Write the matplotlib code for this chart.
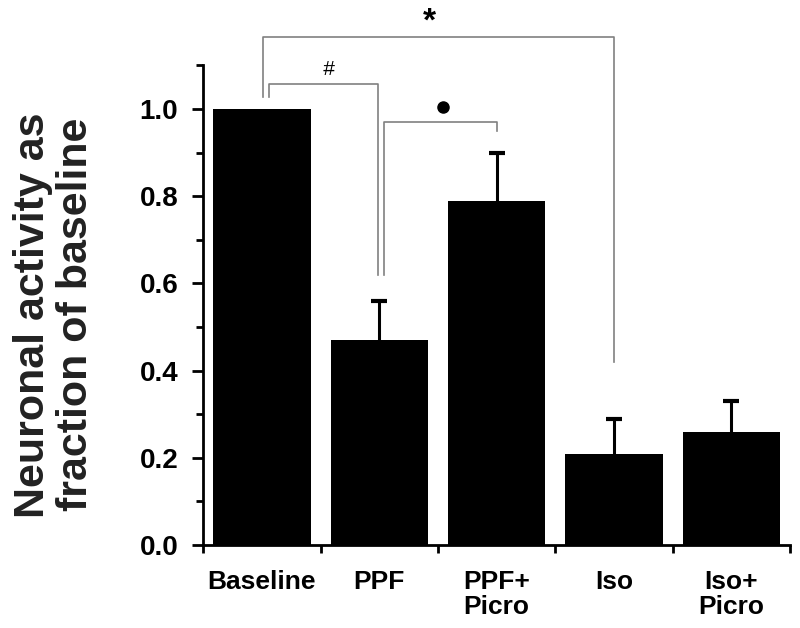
import matplotlib
matplotlib.use("Agg")
import matplotlib.pyplot as plt
from matplotlib.ticker import MultipleLocator
import numpy as np

categories = ["Baseline", "PPF", "PPF+\nPicro", "Iso", "Iso+\nPicro"]
values = [1.0, 0.47, 0.79, 0.21, 0.26]
errors = [0.0, 0.09, 0.11, 0.08, 0.07]
y_ticks = [0.0, 0.2, 0.4, 0.6, 0.8, 1.0]

plt.rcParams['font.family'] = ['Liberation Sans', 'DejaVu Sans']

fig = plt.figure(figsize=(8, 6.28), dpi=100)
ax = fig.add_axes([0.254, 0.132, 0.7335, 0.764])

x = np.arange(len(categories))
ax.bar(x, values, width=0.83, color='black', zorder=2)
for xi, v, e in zip(x, values, errors):
    if e > 0:
        _, caps, _ = ax.errorbar([xi], [v], yerr=[[0], [e]], fmt='none', ecolor='black',
                                 elinewidth=2.2, capsize=6, capthick=3, zorder=1)
        caps[0].set_visible(False)

ax.set_xlim(-0.5, len(categories) - 0.5)
ax.set_ylim(0, 1.1)
ax.set_yticks(y_ticks)
ax.set_yticklabels([f"{t:.1f}" for t in y_ticks], fontsize=20, fontweight='bold')
ax.yaxis.set_minor_locator(MultipleLocator(0.1))
ax.set_xticks(np.arange(-0.5, len(categories), 1.0))
ax.set_xticklabels([])
ax.set_xticks(x, minor=True)
ax.set_xticklabels(categories, minor=True, fontsize=19, fontweight='bold', linespacing=1.05)
ax.tick_params(axis='x', which='minor', length=0, pad=18)
ax.tick_params(axis='x', which='major', length=6, width=2, direction='out')
ax.tick_params(axis='y', which='major', length=8, width=2, direction='out', pad=10)
ax.tick_params(axis='y', which='minor', length=5, width=2, direction='out')

for s in ['top', 'right']:
    ax.spines[s].set_visible(False)
for s in ['left', 'bottom']:
    ax.spines[s].set_linewidth(2)

ax.set_ylabel("Neuronal activity as\nfraction of baseline", fontsize=31,
              fontweight='bold', color='#222222', linespacing=1.12)
ax.yaxis.set_label_coords(-0.182, 0.48)

gray = '#808080'
lw = 1.2
# * bracket
ax.plot([0.01, 0.01, 3.0, 3.0], [1.028, 1.165, 1.165, 0.42], color=gray, lw=lw, clip_on=False)
ax.text(1.43, 1.20, "*", fontsize=24, fontweight='bold', ha='center', va='center', clip_on=False)
# # bracket
ax.plot([0.062, 0.062, 0.99, 0.99], [1.028, 1.057, 1.057, 0.62], color=gray, lw=lw, clip_on=False)
ax.text(0.565, 1.09, "#", fontsize=15, ha='center', va='center', style='italic', clip_on=False)
# dot bracket
ax.plot([1.04, 1.04, 2.0, 2.0], [0.62, 0.97, 0.97, 0.95], color=gray, lw=lw, clip_on=False)
ax.plot([1.54], [1.005], marker='o', markersize=8, color='black', clip_on=False)

fig.savefig("out.png", dpi=100)
